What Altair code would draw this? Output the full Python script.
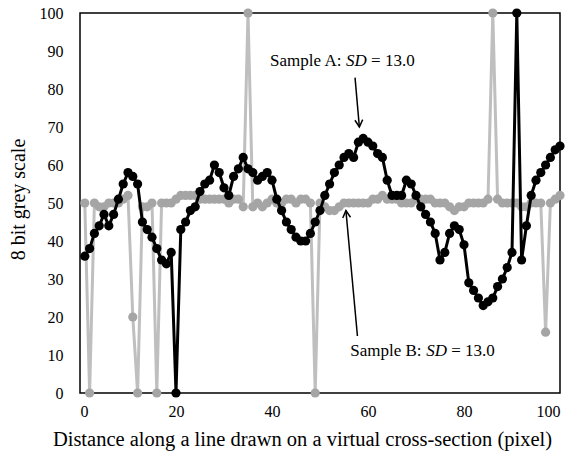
import altair as alt
import pandas as pd

# ---- data -------------------------------------------------------------
X = list(range(1, 101))
SAMPLE_A = [36, 38, 42, 44, 47, 44, 47, 51, 55, 58,
            57, 55, 45, 43, 41, 38, 35, 34, 37, 0,
            43, 45, 48, 49, 53, 55, 56, 60, 58, 54,
            52, 57, 59, 62, 59, 58, 56, 57, 58, 56,
            51, 48, 45, 43, 41, 40, 40, 42, 45, 48,
            52, 55, 58, 60, 62, 63, 62, 66, 67, 66,
            65, 63, 62, 56, 52, 52, 52, 56, 55, 52,
            49, 47, 45, 42, 35, 37, 42, 44, 43, 39,
            29, 27, 25, 23, 24, 25, 28, 30, 33, 37,
            100, 35, 44, 52, 56, 58, 60, 62, 64, 65]
SAMPLE_B = [50, 0, 50, 49, 49, 50, 50, 50, 51, 52,
            20, 0, 49, 49, 50, 0, 50, 50, 50, 51,
            52, 52, 52, 52, 51, 51, 51, 51, 51, 51,
            50, 51, 51, 49, 100, 49, 50, 49, 50, 51,
            50, 50, 51, 51, 50, 51, 51, 50, 0, 50,
            49, 48, 48, 49, 50, 50, 50, 50, 50, 50,
            51, 51, 52, 51, 51, 51, 50, 50, 50, 51,
            51, 51, 51, 50, 50, 50, 49, 48, 49, 49,
            50, 50, 50, 50, 51, 100, 51, 50, 50, 50,
            50, 49, 49, 50, 50, 50, 16, 50, 51, 52]

X_TICKS = [0, 20, 40, 60, 80, 100]
Y_TICKS = [0, 10, 20, 30, 40, 50, 60, 70, 80, 90, 100]

# annotation anchors (data units)
ANN_LABEL_PREFIX = ["Sample A:", "Sample B:"]
ANN_LABEL_SD = ["SD", "SD"]
ANN_LABEL_VALUE = ["= 13.0", "= 13.0"]
ANN_TEXT_X = [39.6, 56.3]
ANN_TEXT_Y = [87.5, 11.0]
ARROW_X_FROM = [57.3, 57.8]
ARROW_Y_FROM = [83.0, 15.0]
ARROW_X_TO = [58.2, 55.4]
ARROW_Y_TO = [70.0, 48.0]
ARROW_ANGLE = [355.6, 174.3]

FONT = "Liberation Serif"

df = pd.DataFrame({"x": X, "a": SAMPLE_A, "b": SAMPLE_B})
ann = pd.DataFrame({"x": ANN_TEXT_X, "y": ANN_TEXT_Y,
                    "p": ANN_LABEL_PREFIX, "sd": ANN_LABEL_SD, "v": ANN_LABEL_VALUE})
arr = pd.DataFrame({"x": ARROW_X_FROM, "y": ARROW_Y_FROM,
                    "x2": ARROW_X_TO, "y2": ARROW_Y_TO, "ang": ARROW_ANGLE})

xs = alt.Scale(domain=[0, 100], nice=False)
ys = alt.Scale(domain=[0, 100], nice=False)

X_TITLE = "Distance along a line drawn on a virtual cross-section  (pixel)"
Y_TITLE = "8 bit grey scale"

x_axis = alt.Axis(values=X_TICKS, grid=False, ticks=False, domain=False,
                  labelFont=FONT, labelFontSize=16, labelColor="black",
                  labelPadding=10, labelOverlap=False,
                  titleFont=FONT, titleFontSize=20.5, titleFontWeight="normal",
                  titleColor="black", titleY=46, titleX=222, titleBaseline="middle")
y_axis = alt.Axis(values=Y_TICKS, grid=False, ticks=False, domain=False,
                  labelFont=FONT, labelFontSize=16, labelColor="black",
                  labelPadding=17, labelOverlap=False,
                  titleFont=FONT, titleFontSize=20, titleFontWeight="normal",
                  titleColor="black", titleAngle=270, titleX=-62, titleY=186,
                  titleBaseline="middle", titleAlign="center")


def X_(field):
    return alt.X(field, scale=xs, axis=x_axis, title=X_TITLE)


def Y_(field):
    return alt.Y(field, scale=ys, axis=y_axis, title=Y_TITLE)


base = alt.Chart(df)

b_line = base.mark_line(color="#bfbfbf", strokeWidth=3).encode(
    x=X_("x:Q"), y=Y_("b:Q"))
b_pts = base.mark_point(filled=True, color="#a5a5a5", size=85, opacity=1).encode(
    x=X_("x:Q"), y=Y_("b:Q"))
a_line = base.mark_line(color="black", strokeWidth=3).encode(
    x=X_("x:Q"), y=Y_("a:Q"))
a_pts = base.mark_point(filled=True, color="black", size=85, opacity=1).encode(
    x=X_("x:Q"), y=Y_("a:Q"))

ann_base = alt.Chart(ann)
t1 = ann_base.mark_text(font=FONT, fontSize=17, align="left", baseline="middle",
                        color="black").encode(x=X_("x:Q"), y=Y_("y:Q"), text="p:N")
t2 = ann_base.mark_text(font=FONT, fontSize=17, fontStyle="italic", align="left",
                        baseline="middle", color="black", dx=76).encode(
    x=X_("x:Q"), y=Y_("y:Q"), text="sd:N")
t3 = ann_base.mark_text(font=FONT, fontSize=17, align="left", baseline="middle",
                        color="black", dx=101).encode(x=X_("x:Q"), y=Y_("y:Q"), text="v:N")

arr_base = alt.Chart(arr)
shafts = arr_base.mark_rule(color="black", strokeWidth=1.5).encode(
    x=X_("x:Q"), y=Y_("y:Q"), x2="x2:Q", y2="y2:Q")
heads = arr_base.mark_point(shape="M -0.55 -1 L 0 0 L 0.55 -1", filled=False,
                            color="black", strokeWidth=1.5, size=200, opacity=1).encode(
    x=X_("x2:Q"), y=Y_("y2:Q"),
    angle=alt.Angle("ang:Q", scale=None))

chart = alt.layer(b_line, b_pts, a_line, a_pts, shafts, heads, t1, t2, t3).properties(
    width=480, height=380,
    autosize=alt.AutoSizeParams(type="none"),
    padding={"left": 80, "top": 13, "right": 13, "bottom": 72},
    background="white",
).configure_view(stroke="black", strokeWidth=1.5)

chart.save("out.html", embed_options={"renderer": "svg", "actions": False})
